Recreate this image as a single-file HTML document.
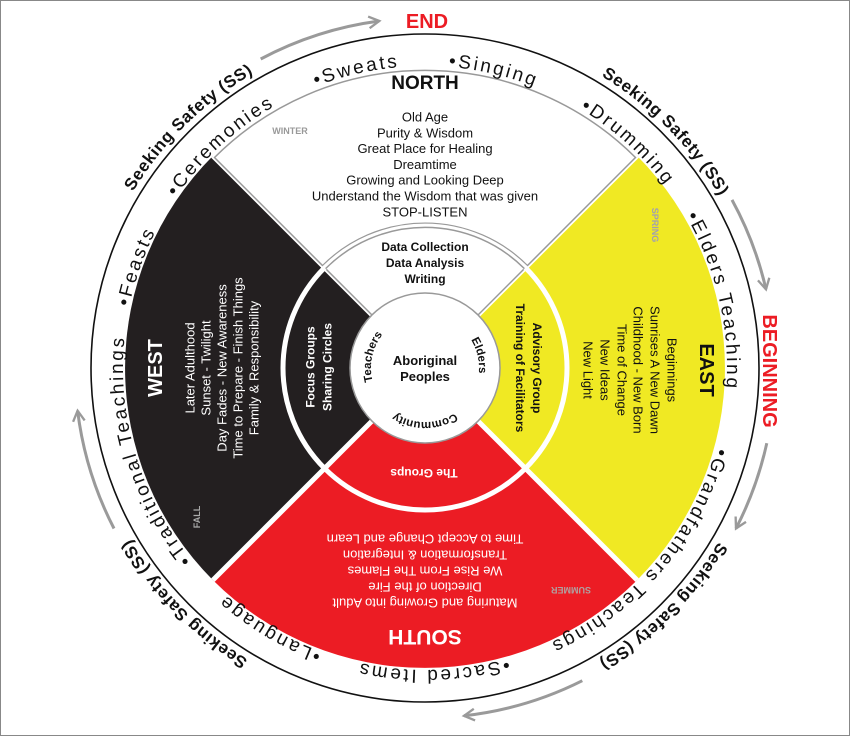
<!DOCTYPE html>
<html><head><meta charset="utf-8"><style>
html,body{margin:0;padding:0;background:#fff}
svg{display:block}
text{font-family:"Liberation Sans",sans-serif}
</style></head><body>
<svg width="850" height="736" viewBox="0 0 850 736" xmlns="http://www.w3.org/2000/svg">
<defs>
<path id="r302" d="M123,368 A302,302 0 0 1 727,368 A302,302 0 0 1 123,368"/>
<path id="r341" d="M84,368 A341,341 0 0 1 766,368 A341,341 0 0 1 84,368"/>
<path id="r54" d="M371,368 A54,54 0 0 1 479,368 A54,54 0 0 1 371,368"/>
<marker id="ah" viewBox="0 0 12 12" refX="10" refY="6" markerWidth="14" markerHeight="14" markerUnits="userSpaceOnUse" orient="auto">
<path d="M1,1 L10,6 L1,11" fill="none" stroke="#9a9a9a" stroke-width="2"/>
</marker>
</defs>
<rect x="0.5" y="0.5" width="849" height="735" fill="#fff" stroke="#888" stroke-width="1"/>

<!-- outer circle -->
<circle cx="425" cy="368" r="334" fill="#fff" stroke="#111" stroke-width="1.6"/>

<!-- quadrants -->
<path d="M425,368 L637.1,155.9 A300,300 0 0 1 637.1,580.1 Z" fill="#f0e923"/>
<path d="M425,368 L637.1,580.1 A300,300 0 0 1 212.9,580.1 Z" fill="#ec1c24"/>
<path d="M425,368 L212.9,580.1 A300,300 0 0 1 212.9,155.9 Z" fill="#231f20"/>
<line x1="212.9" y1="580.1" x2="637.1" y2="155.9" stroke="#fff" stroke-width="5"/>
<line x1="212.9" y1="155.9" x2="637.1" y2="580.1" stroke="#fff" stroke-width="5"/>
<path d="M425,368 L214.5,157.5 A298,298 0 0 1 635.5,157.5 Z" fill="#fff" stroke="#999" stroke-width="1.5"/>

<!-- middle ring -->
<circle cx="425" cy="368" r="142" fill="none" stroke="#fff" stroke-width="5"/>
<path d="M325.6,268.6 A140.5,140.5 0 0 1 524.4,268.6" fill="none" stroke="#999" stroke-width="1.5"/>
<path d="M322.5,265.5 A145,145 0 0 1 527.5,265.5" fill="none" stroke="#999" stroke-width="1.2"/>
<circle cx="425" cy="368" r="75" fill="#fff" stroke="#999" stroke-width="1.5"/>

<!-- arrows -->
<g fill="none" stroke="#9a9a9a" stroke-width="3" marker-end="url(#ah)">
<path d="M260.7,59 A350,350 0 0 1 379.3,21"/>
<path d="M732,199.9 A350,350 0 0 1 766,289.3"/>
<path d="M766.8,443.2 A350,350 0 0 1 736,528.5"/>
<path d="M582.3,680.7 A350,350 0 0 1 464,715.8"/>
<path d="M114,528.5 A350,350 0 0 1 77.6,410.7"/>
</g>

<!-- ring items -->
<g font-size="19" letter-spacing="2.5" fill="#111">
<text transform="rotate(-103 425 368)"><textPath href="#r302" startOffset="50%" text-anchor="middle">•Sweats</textPath></text>
<text transform="rotate(-77 425 368)"><textPath href="#r302" startOffset="50%" text-anchor="middle">•Singing</textPath></text>
<text transform="rotate(-132.6 425 368)"><textPath href="#r302" startOffset="50%" text-anchor="middle">•Ceremonies</textPath></text>
<text transform="rotate(-48 425 368)"><textPath href="#r302" startOffset="50%" text-anchor="middle">•Drumming</textPath></text>
<text transform="rotate(-13 425 368)"><textPath href="#r302" startOffset="50%" text-anchor="middle">•Elders Teaching</textPath></text>
<text transform="rotate(40.5 425 368)"><textPath href="#r302" startOffset="50%" text-anchor="middle">•Grandfathers Teachings</textPath></text>
<text transform="rotate(88.4 425 368)"><textPath href="#r302" startOffset="50%" text-anchor="middle">•Sacred Items</textPath></text>
<text transform="rotate(120.8 425 368)"><textPath href="#r302" startOffset="50%" text-anchor="middle">•Language</textPath></text>
<text transform="rotate(163.3 425 368)"><textPath href="#r302" startOffset="50%" text-anchor="middle">•Traditional Teachings</textPath></text>
<text transform="rotate(-160.6 425 368)"><textPath href="#r302" startOffset="50%" text-anchor="middle">•Feasts</textPath></text>
</g>

<!-- outer labels -->
<g font-size="17" font-weight="bold" letter-spacing="0.6" fill="#111">
<text transform="rotate(-134.5 425 368)"><textPath href="#r341" startOffset="50%" text-anchor="middle">Seeking Safety (SS)</textPath></text>
<text transform="rotate(-44.5 425 368)"><textPath href="#r341" startOffset="50%" text-anchor="middle">Seeking Safety (SS)</textPath></text>
<text transform="rotate(45 425 368)"><textPath href="#r341" startOffset="50%" text-anchor="middle">Seeking Safety (SS)</textPath></text>
<text transform="rotate(135.6 425 368)"><textPath href="#r341" startOffset="50%" text-anchor="middle">Seeking Safety (SS)</textPath></text>
</g>

<text x="427" y="28" font-size="20" font-weight="bold" fill="#ec1c24" text-anchor="middle">END</text>
<text transform="translate(763,371) rotate(90)" font-size="20" font-weight="bold" fill="#ec1c24" text-anchor="middle">BEGINNING</text>

<!-- NORTH -->
<text x="425" y="89" font-size="19" font-weight="bold" fill="#111" text-anchor="middle">NORTH</text>
<text x="290" y="134" font-size="9" font-weight="bold" fill="#999" text-anchor="middle">WINTER</text>
<g font-size="13" fill="#111" text-anchor="middle">
<text x="425" y="121.5">Old Age</text>
<text x="425" y="137.3">Purity &amp; Wisdom</text>
<text x="425" y="153.1">Great Place for Healing</text>
<text x="425" y="168.9">Dreamtime</text>
<text x="425" y="184.7">Growing and Looking Deep</text>
<text x="425" y="200.5">Understand the Wisdom that was given</text>
<text x="425" y="216.3">STOP-LISTEN</text>
</g>
<g font-size="12" font-weight="bold" fill="#111" text-anchor="middle">
<text x="425" y="251">Data Collection</text>
<text x="425" y="267">Data Analysis</text>
<text x="425" y="283">Writing</text>
</g>
<g font-size="13" font-weight="bold" fill="#111" text-anchor="middle">
<text x="425" y="365">Aboriginal</text>
<text x="425" y="381">Peoples</text>
</g>
<g font-size="11.5" font-weight="bold" fill="#111">
<text transform="rotate(192 425 368)"><textPath href="#r54" startOffset="50%" text-anchor="middle">Teachers</textPath></text>
<text transform="rotate(-13 425 368)"><textPath href="#r54" startOffset="50%" text-anchor="middle">Elders</textPath></text>
<text transform="rotate(90 425 368)"><textPath href="#r54" startOffset="50%" text-anchor="middle">Community</textPath></text>
</g>

<!-- EAST -->
<g fill="#111" text-anchor="middle">
<text transform="translate(700,370) rotate(90)" font-size="20" font-weight="bold">EAST</text>
<g font-size="13">
<text transform="translate(667.5,370) rotate(90)">Beginnings</text>
<text transform="translate(650.5,370) rotate(90)">Sunrises A New Dawn</text>
<text transform="translate(633.5,370) rotate(90)">Childhood - New Born</text>
<text transform="translate(617.5,370) rotate(90)">Time of Change</text>
<text transform="translate(600.5,370) rotate(90)">New Ideas</text>
<text transform="translate(583.5,370) rotate(90)">New Light</text>
</g>
<g font-size="12" font-weight="bold">
<text transform="translate(533,368) rotate(90)">Advisory Group</text>
<text transform="translate(516,368) rotate(90)">Training of Facilitators</text>
</g>
</g>
<text transform="translate(652,225) rotate(90)" font-size="9" font-weight="bold" fill="#a0a0b0" text-anchor="middle">SPRING</text>

<!-- WEST -->
<g fill="#fff" text-anchor="middle">
<text transform="translate(162,368) rotate(-90)" font-size="20" font-weight="bold">WEST</text>
<g font-size="13">
<text transform="translate(194.5,368) rotate(-90)">Later Adulthood</text>
<text transform="translate(210.5,368) rotate(-90)">Sunset - Twilight</text>
<text transform="translate(226.5,368) rotate(-90)">Day Fades - New Awareness</text>
<text transform="translate(242.5,368) rotate(-90)">Time to Prepare - Finish Things</text>
<text transform="translate(258.5,368) rotate(-90)">Family &amp; Responsibility</text>
</g>
<g font-size="12" font-weight="bold">
<text transform="translate(314.5,367) rotate(-90)">Focus Groups</text>
<text transform="translate(331.5,367) rotate(-90)">Sharing Circles</text>
</g>
</g>
<text transform="translate(200,517) rotate(-90)" font-size="9" font-weight="bold" fill="#aaa" text-anchor="middle">FALL</text>

<!-- SOUTH -->
<g fill="#fff" text-anchor="middle">
<text transform="translate(425,630) rotate(180)" font-size="21" font-weight="bold">SOUTH</text>
<g font-size="13">
<text transform="translate(425,598.5) rotate(180)">Maturing and Growing into Adult</text>
<text transform="translate(425,582.5) rotate(180)">Direction of the Fire</text>
<text transform="translate(425,566.5) rotate(180)">We Rise From The Flames</text>
<text transform="translate(425,550.5) rotate(180)">Transformation &amp; Integration</text>
<text transform="translate(425,534.5) rotate(180)">Time to Accept Change and Learn</text>
</g>
<text transform="translate(424,469) rotate(180)" font-size="12" font-weight="bold">The Groups</text>
</g>
<text transform="translate(571,587) rotate(180)" font-size="9" font-weight="bold" fill="#b0a0a0" text-anchor="middle">SUMMER</text>
</svg>
</body></html>
